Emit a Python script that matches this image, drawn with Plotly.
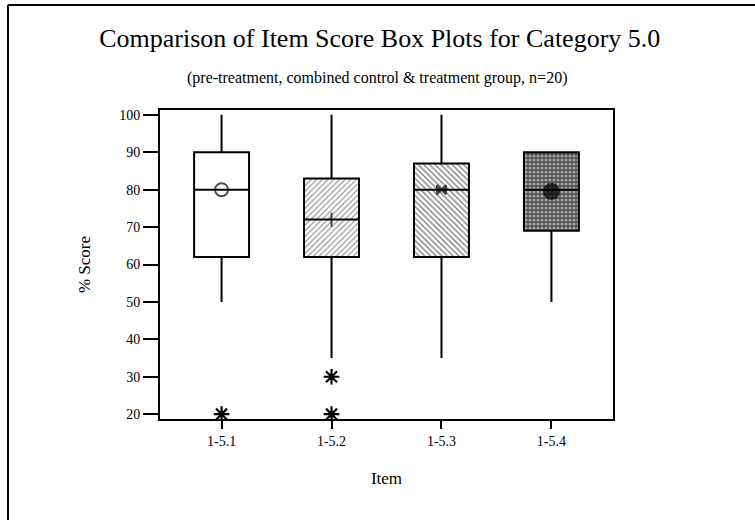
import plotly.graph_objects as go

items = ["1-5.1", "1-5.2", "1-5.3", "1-5.4"]
q1 = [62, 62, 62, 69]
median = [80, 72, 80, 80]
q3 = [90, 83, 87, 90]
lower_whisker = [50, 35, 35, 50]
upper_whisker = [100, 100, 100, 90]
means = [80, 72, 80, 79.5]
outlier_items = ["1-5.1", "1-5.2", "1-5.2"]
outlier_values = [20, 30, 20]

y_ticks = [20, 30, 40, 50, 60, 70, 80, 90, 100]

FONT = "Liberation Serif, Times New Roman, serif"

fig = go.Figure()

# patterned box bodies
fig.add_trace(go.Bar(
    x=items,
    y=[b - a for a, b in zip(q1, q3)],
    base=q1,
    width=0.5,
    marker=dict(
        color="white",
        line=dict(color="black", width=0),
        pattern=dict(
            shape=["", "/", "\\", "."],
            fgcolor=["black", "black", "black", "white"],
            bgcolor=["white", "white", "white", "#4a4a4a"],
            size=[6, 4, 4, 4],
            solidity=[0.2, 0.25, 0.35, 0.5],
            fillmode="overlay",
        ),
    ),
    hoverinfo="skip",
    showlegend=False,
))

# box outlines, medians and whiskers
fig.add_trace(go.Box(
    x=items,
    q1=q1,
    median=median,
    q3=q3,
    lowerfence=lower_whisker,
    upperfence=upper_whisker,
    width=0.5,
    whiskerwidth=0,
    fillcolor="rgba(0,0,0,0)",
    line=dict(color="black", width=2),
    showlegend=False,
))

# mean markers
mean_symbols = ["circle-open", "line-ns-open", "bowtie", "circle"]
mean_sizes = [13, 10, 9, 15]
fig.add_trace(go.Scatter(
    x=items,
    y=means,
    mode="markers",
    marker=dict(symbol=mean_symbols, size=mean_sizes, color="black",
                line=dict(color="black", width=2)),
    showlegend=False,
))

# outliers
fig.add_trace(go.Scatter(
    x=outlier_items,
    y=outlier_values,
    mode="markers",
    marker=dict(symbol="asterisk-open", size=13, color="black",
                line=dict(color="black", width=2.2)),
    showlegend=False,
))

fig.update_layout(
    width=755,
    height=520,
    margin=dict(l=160, r=142, t=110, b=101),
    paper_bgcolor="white",
    plot_bgcolor="white",
    barmode="overlay",
    boxmode="overlay",
    font=dict(family=FONT, color="black"),
    title=dict(
        text="Comparison of Item Score Box Plots for Category 5.0",
        font=dict(family=FONT, size=26, color="black"),
        xref="container", x=0.503, xanchor="center",
        yref="container", y=1 - 38 / 520, yanchor="middle",
    ),
    annotations=[dict(
        text="(pre-treatment, combined control &amp; treatment group, n=20)",
        xref="paper", yref="paper", x=0.48, y=(419 - 78) / 309,
        xanchor="center", yanchor="middle", showarrow=False,
        font=dict(family=FONT, size=16, color="black"),
    )],
    xaxis=dict(
        type="category",
        range=[-0.56, 3.56],
        showline=True, linecolor="black", linewidth=1.8, mirror=True,
        ticks="outside", ticklen=8, tickwidth=2, tickcolor="black",
        tickfont=dict(family=FONT, size=14),
        title=dict(text="Item", font=dict(family=FONT, size=17), standoff=24),
        showgrid=False, zeroline=False,
    ),
    yaxis=dict(
        range=[18.7, 101.3],
        tickvals=y_ticks,
        showline=True, linecolor="black", linewidth=1.8, mirror=True,
        ticks="outside", ticklen=15, tickwidth=2, tickcolor="black",
        tickfont=dict(family=FONT, size=14),
        title=dict(text="% Score", font=dict(family=FONT, size=17), standoff=24),
        showgrid=False, zeroline=False,
    ),
    shapes=[
        dict(type="line", xref="paper", yref="paper",
             x0=(8 - 160) / 453, x1=(755 - 160) / 453,
             y0=(419 - 5) / 309, y1=(419 - 5) / 309,
             line=dict(color="black", width=2)),
        dict(type="line", xref="paper", yref="paper",
             x0=(8 - 160) / 453, x1=(8 - 160) / 453,
             y0=(419 - 5) / 309, y1=(419 - 520) / 309,
             line=dict(color="black", width=2)),
    ],
)

fig.write_html("out.html")
